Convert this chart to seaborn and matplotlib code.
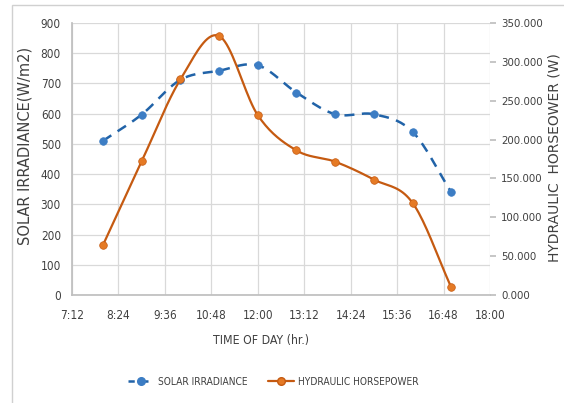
import numpy as np
import pandas as pd
import matplotlib
matplotlib.use("Agg")
import matplotlib.pyplot as plt
from matplotlib.lines import Line2D
from matplotlib.patches import Rectangle
from matplotlib import font_manager
import seaborn as sns

# ---- data ----
hours = [8, 9, 10, 11, 12, 13, 14, 15, 16, 17]
solar_irradiance = [510, 597, 712, 742, 760, 670, 598, 598, 540, 340]
hydraulic_power = [64200, 172000, 277300, 333300, 231400, 186000, 171500, 148500, 118500, 9700]
x_ticks = [7.2, 8.4, 9.6, 10.8, 12.0, 13.2, 14.4, 15.6, 16.8, 18.0]
x_tick_labels = ["7:12", "8:24", "9:36", "10:48", "12:00", "13:12", "14:24", "15:36", "16:48", "18:00"]
left_ticks = [0, 100, 200, 300, 400, 500, 600, 700, 800, 900]
right_ticks = [0, 50000, 100000, 150000, 200000, 250000, 300000, 350000]

BLUE_LINE = "#2163A8"
BLUE_MK = "#3C7DC4"
ORANGE_LINE = "#C55A11"
ORANGE_MK = "#E57A25"
GRID = "#D9D9D9"
TXT = "#404040"

sns.set_theme(style="white")
names = {f.name for f in font_manager.fontManager.ttflist}
fam = [n for n in ["Liberation Sans Narrow", "DejaVu Sans"] if n in names]
plt.rcParams['font.family'] = fam
plt.rcParams['font.stretch'] = 'condensed'


def smooth(x, y, n=20):
    """Catmull-Rom style smoothing (like spreadsheet 'smoothed line')."""
    x = np.asarray(x, float)
    y = np.asarray(y, float)
    px = np.concatenate([[2 * x[0] - x[1]], x, [2 * x[-1] - x[-2]]])
    py = np.concatenate([[2 * y[0] - y[1]], y, [2 * y[-1] - y[-2]]])
    xs, ys = [], []
    for i in range(1, len(px) - 2):
        p0x, p1x, p2x, p3x = px[i - 1:i + 3]
        p0y, p1y, p2y, p3y = py[i - 1:i + 3]
        c1x, c1y = p1x + (p2x - p0x) / 6, p1y + (p2y - p0y) / 6
        c2x, c2y = p2x - (p3x - p1x) / 6, p2y - (p3y - p1y) / 6
        t = np.linspace(0, 1, n, endpoint=(i == len(px) - 3))
        bx = (1 - t) ** 3 * p1x + 3 * (1 - t) ** 2 * t * c1x + 3 * (1 - t) * t ** 2 * c2x + t ** 3 * p2x
        by = (1 - t) ** 3 * p1y + 3 * (1 - t) ** 2 * t * c1y + 3 * (1 - t) * t ** 2 * c2y + t ** 3 * p2y
        xs.append(bx)
        ys.append(by)
    return np.concatenate(xs), np.concatenate(ys)


fig = plt.figure(figsize=(5.64, 4.03), dpi=100)
fig.patch.set_facecolor("white")
fig.patches.append(Rectangle((12 / 564, -0.05), 1.2, 1 - 5 / 403 + 0.05, transform=fig.transFigure,
                             fill=False, edgecolor="#D0D0D0", linewidth=1.0))

ax = fig.add_axes([72 / 564, 1 - 295 / 403, (490 - 72) / 564, (295 - 23) / 403])
ax2 = ax.twinx()

df = pd.DataFrame({"hour": hours, "solar": solar_irradiance, "hyd": hydraulic_power})
sx, sy = smooth(df["hour"], df["solar"])
hx, hy = smooth(df["hour"], df["hyd"])
sm_solar = pd.DataFrame({"hour": sx, "v": sy})
sm_hyd = pd.DataFrame({"hour": hx, "v": hy})

sns.lineplot(data=sm_solar, x="hour", y="v", ax=ax, color=BLUE_LINE, lw=1.8,
             linestyle=(0, (4, 3)), sort=False, estimator=None, zorder=3)
sns.scatterplot(data=df, x="hour", y="solar", ax=ax, color=BLUE_MK, s=30, edgecolor=BLUE_MK,
                linewidth=0.5, zorder=4)
sns.lineplot(data=sm_hyd, x="hour", y="v", ax=ax2, color=ORANGE_LINE, lw=1.6,
             sort=False, estimator=None, zorder=3)
sns.scatterplot(data=df, x="hour", y="hyd", ax=ax2, color=ORANGE_MK, s=30, edgecolor=ORANGE_LINE,
                linewidth=0.5, zorder=4)

ax.set_xlim(7.2, 18.0)
ax.set_ylim(0, 900)
ax2.set_ylim(0, 350000)
ax.set_xticks(x_ticks)
ax.set_xticklabels(x_tick_labels)
ax.set_yticks(left_ticks)
ax.set_yticklabels([str(v) for v in left_ticks])
ax2.set_yticks(right_ticks)
ax2.set_yticklabels([f"{v / 1000:.3f}" for v in right_ticks])

ax.grid(True, color=GRID, linewidth=0.9)
ax.set_axisbelow(True)
for a in (ax, ax2):
    for s in a.spines.values():
        s.set_visible(False)
ax.spines["bottom"].set_visible(True)
ax.spines["bottom"].set_color("#BFBFBF")
ax.spines["left"].set_visible(True)
ax.spines["left"].set_color("#BFBFBF")

ax.tick_params(axis="y", length=0, labelsize=8.5, colors=TXT, pad=8)
ax.tick_params(axis="x", length=0, labelsize=8.5, colors=TXT, pad=10)
ax2.tick_params(axis="y", length=4, color="#BFBFBF", labelsize=8.2, labelcolor=TXT, pad=4)

ax.set_xlabel("TIME OF DAY (hr.)", fontsize=8.8, color=TXT)
ax.xaxis.set_label_coords((261 - 72) / (490 - 72), -0.145)
ax.set_ylabel("SOLAR IRRADIANCE(W/m2)", fontsize=10.5, fontstretch="normal", color=TXT)
ax.yaxis.set_label_coords((33 - 72) / (490 - 72), (295 - 146) / (295 - 23))
ax2.set_ylabel("HYDRAULIC  HORSEOWER (W)", fontsize=10, fontstretch="normal", color=TXT)
ax2.yaxis.set_label_coords((547 - 72) / (490 - 72), (295 - 158) / (295 - 23))

handles = [
    Line2D([0], [0], color=BLUE_LINE, lw=1.8, linestyle=(0, (2.5, 3)), marker="o",
           markersize=5.5, markerfacecolor=BLUE_MK, markeredgecolor=BLUE_MK),
    Line2D([0], [0], color=ORANGE_LINE, lw=1.6, marker="o",
           markersize=5.5, markerfacecolor=ORANGE_MK, markeredgecolor=ORANGE_LINE),
]
fig.legend(handles, ["SOLAR IRRADIANCE", "HYDRAULIC HORSEPOWER"], loc="center",
           bbox_to_anchor=(273 / 564, 1 - 382 / 403), ncol=2, frameon=False,
           fontsize=7.3, handlelength=2.6, handletextpad=0.35, columnspacing=2.0, labelcolor=TXT)

fig.savefig("out.png", dpi=100)
